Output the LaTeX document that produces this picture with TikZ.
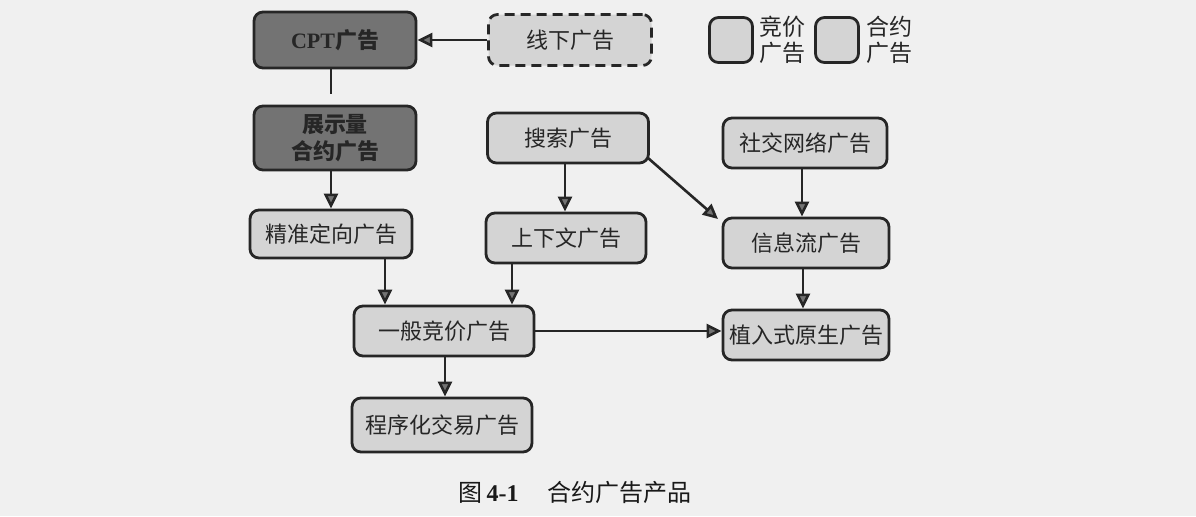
\documentclass[tikz,border=0pt]{standalone}
\usepackage{fontspec}
\setmainfont{Liberation Serif}
\newfontfamily\cjk{Noto Sans CJK SC}
\usetikzlibrary{arrows.meta}
\begin{document}
\begin{tikzpicture}[x=0.5pt,y=-0.5pt,
  base/.style={draw=black!85, line width=1.4pt, rounded corners=4.5pt, inner sep=1pt,
    font=\cjk\fontsize{11}{13.5}\selectfont, text=black!85, align=center},
  lbox/.style={base, fill=black!17},
  dbox/.style={base, fill=black!55, font=\cjk\bfseries\fontsize{11}{13.5}\selectfont},
  dashbox/.style={lbox, dashed, dash pattern=on 5pt off 3pt},
  arr/.style={draw=black!85, line width=1.3pt, -{Triangle[length=7.5pt,width=7pt,fill=black!55]}},
  conn/.style={draw=black!85, line width=1.4pt},
  legtext/.style={font=\cjk\fontsize{11.5}{13}\selectfont, text=black!85, align=left, inner sep=0pt}
]
\useasboundingbox (0,0) rectangle (1196,516);
\fill[black!6] (0,0) rectangle (1196,516);

% nodes
\node[dbox, minimum width=81pt, minimum height=28pt] (cpt) at (335,40) {{\rmfamily\bfseries CPT}广告};
\node[dashbox, minimum width=81.5pt, minimum height=25.5pt] (xx) at (570,40) {线下广告};
\node[dbox, minimum width=81pt, minimum height=32pt] (zs) at (335,138) {展示量\\合约广告};
\node[lbox, minimum width=80.5pt, minimum height=25pt] (ss) at (568,138) {搜索广告};
\node[lbox, minimum width=82pt, minimum height=25pt] (sj) at (805,143) {社交网络广告};
\node[lbox, minimum width=81pt, minimum height=24pt] (jz) at (331,234) {精准定向广告};
\node[lbox, minimum width=80pt, minimum height=25pt] (sx) at (566,238) {上下文广告};
\node[lbox, minimum width=83pt, minimum height=25pt] (xl) at (806,243) {信息流广告};
\node[lbox, minimum width=90pt, minimum height=25pt] (yb) at (444,331) {一般竞价广告};
\node[lbox, minimum width=83pt, minimum height=25pt] (zr) at (806,335) {植入式原生广告};
\node[lbox, minimum width=90pt, minimum height=27pt] (cx) at (442,425) {程序化交易广告};

% legend
\node[lbox, minimum width=21.5pt, minimum height=22.5pt] (lg1) at (731,40) {};
\node[legtext, anchor=west] (lt1) at (759,40) {竞价\\广告};
\node[lbox, minimum width=21.5pt, minimum height=22.5pt] (lg2) at (837,40) {};
\node[legtext, anchor=west] (lt2) at (866,40) {合约\\广告};

% connectors
\draw[arr] (xx.west) -- (cpt.east);
\coordinate (cend) at (331,94);
\draw[conn] (cpt.south -| cend) -- (cend);
\draw[arr] (zs.south -| 331,0) -- (jz.north -| 331,0);
\draw[arr] (ss.south -| 565,0) -- (sx.north -| 565,0);
\coordinate (d1) at (648,158);
\coordinate (d2) at (718,219);
\draw[arr] (d1) -- (d2);
\draw[arr] (sj.south -| 802,0) -- (xl.north -| 802,0);
\draw[arr] (jz.south -| 385,0) -- (yb.north -| 385,0);
\draw[arr] (sx.south -| 512,0) -- (yb.north -| 512,0);
\draw[arr] (yb.east) -- (zr.west |- yb.east);
\draw[arr] (xl.south -| 803,0) -- (zr.north -| 803,0);
\draw[arr] (yb.south -| 445,0) -- (cx.north -| 445,0);

% caption
\node[font=\fontsize{12}{14}\selectfont, text=black!90, inner sep=0pt] (cap) at (575,492)
  {{\cjk 图}\,{\bfseries 4-1}\hspace{1.2em}{\cjk 合约广告产品}};
\end{tikzpicture}
\end{document}
